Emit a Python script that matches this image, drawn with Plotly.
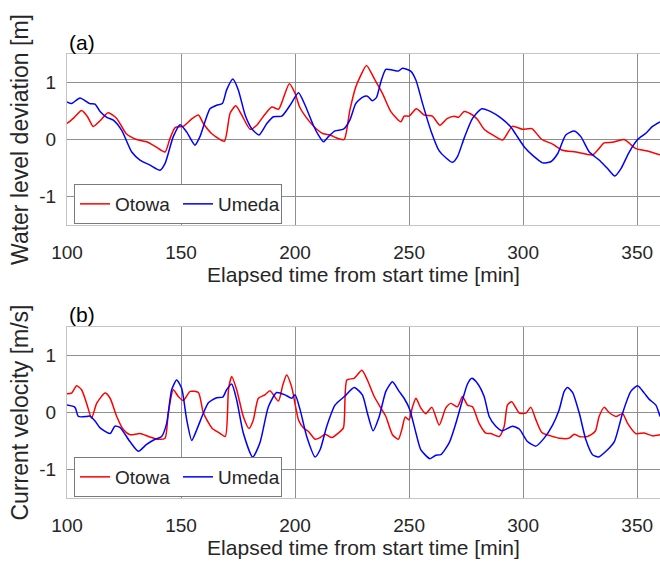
import plotly.graph_objects as go

# ---------------- data ----------------
wl_otowa_t = [100, 103, 106.4, 109, 111.5, 114.5, 118, 121.8, 126, 130.5, 135, 139, 143, 145, 147.4, 151, 154.7, 157.6,
              159.8, 163.5, 169, 171.5, 174, 176.6, 180.3, 183.2, 186, 189.8, 192.7, 194, 197.5, 200, 202, 205.8, 209.5,
              212.4, 215.4, 218, 221.5, 224, 226.6, 228.5, 231.3, 234.7, 238.3, 242, 246.4, 247.8, 250, 253.2, 256.6,
              260.2, 263.5, 266.8, 269.8, 271.7, 274.1, 277.8, 280, 282.9, 286.6, 291, 295.3, 299.7, 303.8, 308.2, 312.9,
              317.3, 323.1, 330.4, 332.6, 335.5, 339.2, 344.3, 349.4, 354.5, 360]
wl_otowa_v = [0.28, 0.38, 0.51, 0.40, 0.23, 0.33, 0.47, 0.37, 0.10, 0.0, -0.04, -0.13, -0.22, 0.0, 0.21, 0.23, 0.36, 0.43,
              0.28, 0.10, -0.03, 0.46, 0.59, 0.43, 0.18, 0.25, 0.40, 0.57, 0.53, 0.63, 0.98, 0.81, 0.57, 0.34, 0.18,
              0.10, 0.08, 0.03, 0.0, 0.51, 0.92, 1.10, 1.30, 1.07, 0.81, 0.49, 0.31, 0.41, 0.41, 0.54, 0.43,
              0.41, 0.25, 0.37, 0.41, 0.39, 0.49, 0.43, 0.35, 0.18, 0.08, -0.01, 0.23, 0.18, 0.19, 0.0, -0.08,
              -0.19, -0.22, -0.27, -0.19, -0.06, -0.05, 0.0, -0.16, -0.20, -0.27]

wl_umeda_t = [100, 102, 105.7, 110, 112.3, 114.5, 117.4, 120.3, 124, 128.4, 132, 136.4, 140.8, 143, 146.6, 149.6, 152.5,
              156.1, 158.3, 162.7, 165.6, 168.1, 170, 172.7, 175.1, 178.1, 181, 184.2, 187.6, 190.5, 194.2, 197.8, 201.5,
              204.4, 208, 210.2, 212.4, 214.6, 217.5, 221.2, 224, 226.6, 229.5, 231.7, 233.9, 235.7, 237.6, 239.8, 242.7,
              245.3, 247.1, 250.7, 253, 255.9, 259.5, 263.2, 266.1, 269, 271.2, 274.1, 277.8, 281.9, 285.8, 290.2, 294.6,
              296.8, 300.5, 304.8, 308.5, 312.1, 315.1, 318.7, 322.4, 325.3, 329, 333.3, 337, 340.2, 342.9, 346.5, 350.2,
              353.8, 356.7, 360]
wl_umeda_v = [0.66, 0.63, 0.73, 0.63, 0.62, 0.49, 0.39, 0.34, 0.16, -0.22, -0.36, -0.45, -0.54, -0.42, 0.05, 0.26, 0.13,
              -0.10, 0.05, 0.54, 0.60, 0.63, 0.87, 1.06, 0.87, 0.43, 0.19, 0.08, 0.28, 0.40, 0.41, 0.60, 0.82,
              0.60, 0.25, 0.08, -0.04, 0.05, 0.15, 0.18, 0.34, 0.63, 0.74, 0.76, 0.68, 0.74, 1.01, 1.23, 1.22,
              1.20, 1.25, 1.20, 1.04, 0.63, 0.16, -0.20, -0.32, -0.40, -0.30, 0.02, 0.37, 0.54, 0.49, 0.38, 0.22,
              0.09, -0.13, -0.30, -0.41, -0.39, -0.25, 0.08, 0.15, 0.05, -0.22, -0.36, -0.51, -0.64, -0.51, -0.22, 0.0,
              0.11, 0.23, 0.31]

cv_otowa_t = [100, 102, 104.2, 106.4, 108.6, 110.8, 113, 116.7, 118.9, 121.8, 124.7, 127.6, 132, 135.7, 140, 143, 144.4,
              146.6, 148.8, 151, 154, 157.6, 159.8, 163.5, 166.4, 169.4, 170.8, 172.2, 174.4, 177.3, 179.8, 181.7, 183.9,
              186.8, 189, 192.7, 194.6, 196.3, 198.5, 201.5, 203.7, 205.8, 208.8, 211, 213.2, 216.1, 219, 221.2, 222.7,
              225.9, 229.3, 231.7, 234.7, 237.6, 239.8, 242.7, 245.3, 246.8, 248.3, 250, 251.5, 253, 255.1, 257.3, 260,
              263.2, 266.1, 268.3, 271.2, 273.4, 275.6, 277.8, 280.7, 283.6, 285.8, 289.5, 291.7, 293.1, 295, 298.3,
              301.2, 303.4, 305.6, 308.2, 312.1, 315.8, 320.2, 322.4, 324.6, 328.2, 331.6, 333.3, 335.5, 337.7, 340.7,
              343.6, 345.8, 349.4, 353.1, 356.7, 360]
cv_otowa_v = [0.33, 0.34, 0.47, 0.40, 0.16, -0.10, 0.16, 0.34, 0.25, -0.07, -0.30, -0.39, -0.37, -0.42, -0.47, -0.45, -0.01,
              0.40, 0.28, 0.21, 0.37, 0.35, -0.01, -0.27, -0.35, -0.42, 0.40, 0.63, 0.40, -0.07, -0.28, -0.13, 0.25,
              0.31, 0.38, 0.20, 0.48, 0.66, 0.45, -0.13, -0.27, -0.33, -0.47, -0.44, -0.38, -0.44, -0.36, -0.27, 0.57,
              0.60, 0.74, 0.57, 0.28, 0.08, -0.07, -0.39, -0.47, -0.30, -0.08, -0.13, 0.10, 0.25, 0.08, -0.02, 0.09,
              -0.22, 0.08, 0.16, 0.10, 0.28, 0.13, 0.10, -0.19, -0.36, -0.37, -0.42, -0.24, 0.13, 0.19, -0.01,
              -0.01, 0.09, -0.13, -0.35, -0.41, -0.45, -0.45, -0.38, -0.42, -0.42, -0.33, -0.07, 0.09, 0.0, -0.07,
              -0.02, -0.19, -0.37, -0.36, -0.41, -0.39]

cv_umeda_t = [100, 103.5, 105, 108.6, 110, 112.3, 114.5, 118.9, 121, 123.2, 127.6, 131.3, 134.9, 138.6, 141.5, 143.7,
              145.9, 148.1, 150.3, 152.5, 154.7, 156.9, 159.8, 162, 165.6, 168.3, 170, 172.2, 174.4, 177.3, 181.4, 184.6,
              188.3, 191.9, 195.6, 198.5, 200, 202.2, 205.1, 208.8, 211, 213.9, 217.5, 221.9, 225.9, 229.5, 231.7, 234.2,
              236.9, 239.8, 242.7, 245.6, 247.8, 250.3, 253, 255.1, 259.1, 261.7, 263.9, 267.6, 270.5, 273.4, 275.6,
              277.5, 280, 282.9, 285.1, 288, 290.9, 295.3, 298.3, 301.9, 305.6, 309.2, 312.9, 315.8, 318, 319.5, 321.7,
              324.6, 327.5, 330.4, 333.1, 336.3, 340, 343.6, 347.2, 350.2, 353.1, 355.3, 358.2, 360]
cv_umeda_v = [0.13, 0.09, -0.07, -0.07, -0.06, -0.15, -0.27, -0.37, -0.24, -0.26, -0.51, -0.68, -0.56, -0.47, -0.42, -0.19,
              0.40, 0.57, 0.42, -0.13, -0.49, -0.30, -0.01, 0.17, 0.26, 0.27, 0.40, 0.50, 0.22, -0.36, -0.78, -0.53,
              0.10, 0.35, 0.31, 0.25, 0.31, 0.05, -0.42, -0.78, -0.65, -0.24, 0.13, 0.29, 0.44, 0.31, -0.01, -0.32,
              -0.07, 0.37, 0.54, 0.37, 0.25, 0.05, -0.36, -0.65, -0.81, -0.75, -0.74, -0.53, -0.19, 0.22, 0.50,
              0.60, 0.51, 0.28, -0.07, -0.24, -0.32, -0.24, -0.29, -0.51, -0.59, -0.45, -0.22, 0.05, 0.37, 0.44, 0.35,
              -0.01, -0.48, -0.74, -0.78, -0.68, -0.51, -0.01, 0.37, 0.47, 0.34, 0.23, 0.13, -0.07]

x_ticks = [100, 150, 200, 250, 300, 350]
y_ticks = [-1, 0, 1]
y_ticklabels = ["-1", "0", "1"]
series_names = ["Otowa", "Umeda"]
series_colors = ["#ff0000", "#0000ff"]
x_title = "Elapsed time from start time [min]"
y_titles = ["Water level deviation [m]", "Current velocity [m/s]"]
panel_labels = ["(a)", "(b)"]

# ---------------- figure ----------------
W, H = 660, 564
FONT = "Arial, Liberation Sans, sans-serif"
TXT = "#262626"
L = 67

fig = go.Figure()
line_kw = dict(width=1.5, shape="spline", smoothing=0.6)

fig.add_trace(go.Scatter(x=wl_otowa_t, y=wl_otowa_v, name=series_names[0], mode="lines",
                         line=dict(color=series_colors[0], **line_kw), xaxis="x", yaxis="y", legend="legend"))
fig.add_trace(go.Scatter(x=wl_umeda_t, y=wl_umeda_v, name=series_names[1], mode="lines",
                         line=dict(color=series_colors[1], **line_kw), xaxis="x", yaxis="y", legend="legend"))
fig.add_trace(go.Scatter(x=cv_otowa_t, y=cv_otowa_v, name=series_names[0], mode="lines",
                         line=dict(color=series_colors[0], **line_kw), xaxis="x2", yaxis="y2", legend="legend2"))
fig.add_trace(go.Scatter(x=cv_umeda_t, y=cv_umeda_v, name=series_names[1], mode="lines",
                         line=dict(color=series_colors[1], **line_kw), xaxis="x2", yaxis="y2", legend="legend2"))

ydom_a = [1 - 225 / H, 1 - 54 / H]
ydom_b = [1 - 498 / H, 1 - 327 / H]
GRID = "#8e8e8e"

def xax(anchor):
    return dict(domain=[0, 1], range=[100, 360], tickvals=x_ticks, anchor=anchor, automargin=False,
                showgrid=True, gridcolor=GRID, gridwidth=1, zeroline=False,
                showline=True, linecolor="#c4c4c4", linewidth=1, mirror=True,
                ticks="outside", ticklen=10, tickcolor="rgba(0,0,0,0)",
                tickfont=dict(size=19, color=TXT, family=FONT),
                title=dict(text=x_title, font=dict(size=21, color=TXT, family=FONT), standoff=0))

def yax(dom, anchor, title):
    return dict(domain=dom, range=[-1.5, 1.5], tickvals=y_ticks, ticktext=y_ticklabels, anchor=anchor,
                automargin=False,
                showgrid=True, gridcolor=GRID, gridwidth=1, zeroline=False,
                showline=True, linecolor="#c4c4c4", linewidth=1, mirror=True,
                ticks="outside", ticklen=6, tickcolor="rgba(0,0,0,0)",
                tickfont=dict(size=19, color=TXT, family=FONT),
                title=dict(text=title, font=dict(size=23, color=TXT, family=FONT), standoff=4))

leg_common = dict(orientation="h", xanchor="left", yanchor="middle", bgcolor="white",
                  bordercolor="#7a7a7a", borderwidth=1, font=dict(size=19, color=TXT, family=FONT),
                  itemwidth=30, tracegroupgap=0, entrywidth=58)

fig.update_layout(
    width=W, height=H,
    margin=dict(l=L, r=0, t=0, b=0, autoexpand=False),
    paper_bgcolor="white", plot_bgcolor="white",
    font=dict(family=FONT, color=TXT),
    xaxis=xax("y"),
    yaxis=yax(ydom_a, "x", y_titles[0]),
    xaxis2=xax("y2"),
    yaxis2=yax(ydom_b, "x2", y_titles[1]),
    legend=dict(x=(74 - L) / (W - L), y=1 - 204 / H, **leg_common),
    legend2=dict(x=(74 - L) / (W - L), y=1 - 477 / H, **leg_common),
    annotations=[
        dict(text=panel_labels[0], x=0, y=1 - 42 / H, xref="paper", yref="paper", xanchor="left", yanchor="middle",
             showarrow=False, font=dict(size=21, color="black", family=FONT)),
        dict(text=panel_labels[1], x=0, y=1 - 315 / H, xref="paper", yref="paper", xanchor="left", yanchor="middle",
             showarrow=False, font=dict(size=21, color="black", family=FONT)),
    ],
)

fig.write_html("out.html", config={"displayModeBar": False},
               post_script="document.body.style.margin='0';document.documentElement.style.overflow='hidden';")
